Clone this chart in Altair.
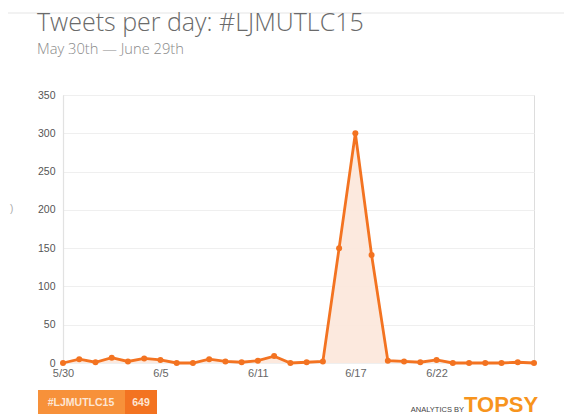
import altair as alt
import pandas as pd

dates = pd.date_range("2015-05-30", "2015-06-28", freq="D").strftime("%Y-%m-%d").tolist()
tweets = [0, 5, 1, 7, 2, 6, 4, 0, 0, 5, 2, 1, 3, 9, 0, 1, 2, 150, 300, 141, 3, 2, 1, 4, 0, 0, 0, 0, 1, 0]
x_tick_dates = [(5, 30), (6, 5), (6, 11), (6, 17), (6, 22)]
y_ticks = [0, 50, 100, 150, 200, 250, 300, 350]

title_text = "Tweets per day: #LJMUTLC15"
subtitle_text = "May 30th \u2014 June 29th"
badge_tag = "#LJMUTLC15"
badge_total = "649"

df = pd.DataFrame({"date": dates, "tweets": tweets})

ORANGE = "#f37321"
W, H = 471, 268

x_enc = alt.X(
    "date:T",
    scale=alt.Scale(type="utc", domain=[dates[0], dates[-1]], nice=False),
    axis=alt.Axis(
        values=[alt.DateTime(year=2015, month=m, date=d, utc=True) for m, d in x_tick_dates],
        labelExpr="utcFormat(datum.value, '%-m/%-d')", title=None,
        grid=False, domain=False, ticks=False, labelColor="#666", labelFontSize=11,
        labelFont="Liberation Sans", labelPadding=4, labelFlush=False,
    ),
)
y_enc = alt.Y(
    "tweets:Q",
    scale=alt.Scale(domain=[0, 350], nice=False),
    axis=alt.Axis(
        values=y_ticks, title=None, grid=True, gridColor="#efefef", gridWidth=1.2,
        domain=True, domainColor="#e2e2e2", domainWidth=1.2, ticks=False,
        labelColor="#555", labelFontSize=10.5, labelFont="Liberation Sans", labelPadding=8,
    ),
)

base = alt.Chart(df).encode(x=x_enc, y=y_enc)
area = base.mark_area(color="#fce7da", opacity=0.9)
line = base.mark_line(color=ORANGE, strokeWidth=2.8,
                      point=alt.OverlayMarkDef(color=ORANGE, filled=True, size=36))

one = alt.Data(values=[{"k": 1}])

def txt(s, x, y, size, color, font="Open Sans", weight="normal", align="left", baseline="alphabetic"):
    return alt.Chart(one).mark_text(
        text=s, fontSize=size, color=color, font=font, fontWeight=weight,
        align=align, baseline=baseline,
    ).encode(x=alt.value(x), y=alt.value(y))

def rect(x, x2, y, y2, color):
    return alt.Chart(one).mark_rect(color=color).encode(
        x=alt.value(x), x2=alt.value(x2), y=alt.value(y), y2=alt.value(y2))

top_rule = alt.Chart(one).mark_rule(color="#eeeeee", strokeWidth=1.5).encode(
    x=alt.value(-55), x2=alt.value(W + 30), y=alt.value(-82))

title = txt(title_text, -26, -64, 25, "#6a6a6a", weight=300)
subtitle = txt(subtitle_text, -26, -41, 14.7, "#8a8a8a", weight=300)
stray = txt(")", -53, 114, 10, "#aaaaaa", font="Liberation Sans", baseline="middle")

badge_left = rect(-25, 62, 295, 330, "#f7913a")
badge_right = rect(62, 94, 295, 330, "#f37321")
badge_t1 = txt(badge_tag, 18, 308, 10.5, "#fde6d4", font="Liberation Sans", weight="bold", align="center", baseline="middle")
badge_t2 = txt(badge_total, 78, 308, 10.5, "#fde6d4", font="Liberation Sans", weight="bold", align="center", baseline="middle")

analytics = txt("ANALYTICS BY", 401, 317, 7.5, "#444444", font="Liberation Sans", align="right")
topsy = txt("TOPSY", 401, 317, 22, "#f7941d", font="Liberation Sans", weight="bold", align="left")

chart = alt.layer(
    area, line, top_rule, title, subtitle, stray,
    badge_left, badge_right, badge_t1, badge_t2, analytics, topsy,
).properties(
    width=W, height=H,
    autosize=alt.AutoSizeParams(type="none"),
    padding={"left": 55, "top": 87, "right": 31, "bottom": 60},
).configure_view(strokeWidth=0, stroke="transparent").configure(background="white")

chart.save("out.html", embed_options={"renderer": "svg", "actions": False})
